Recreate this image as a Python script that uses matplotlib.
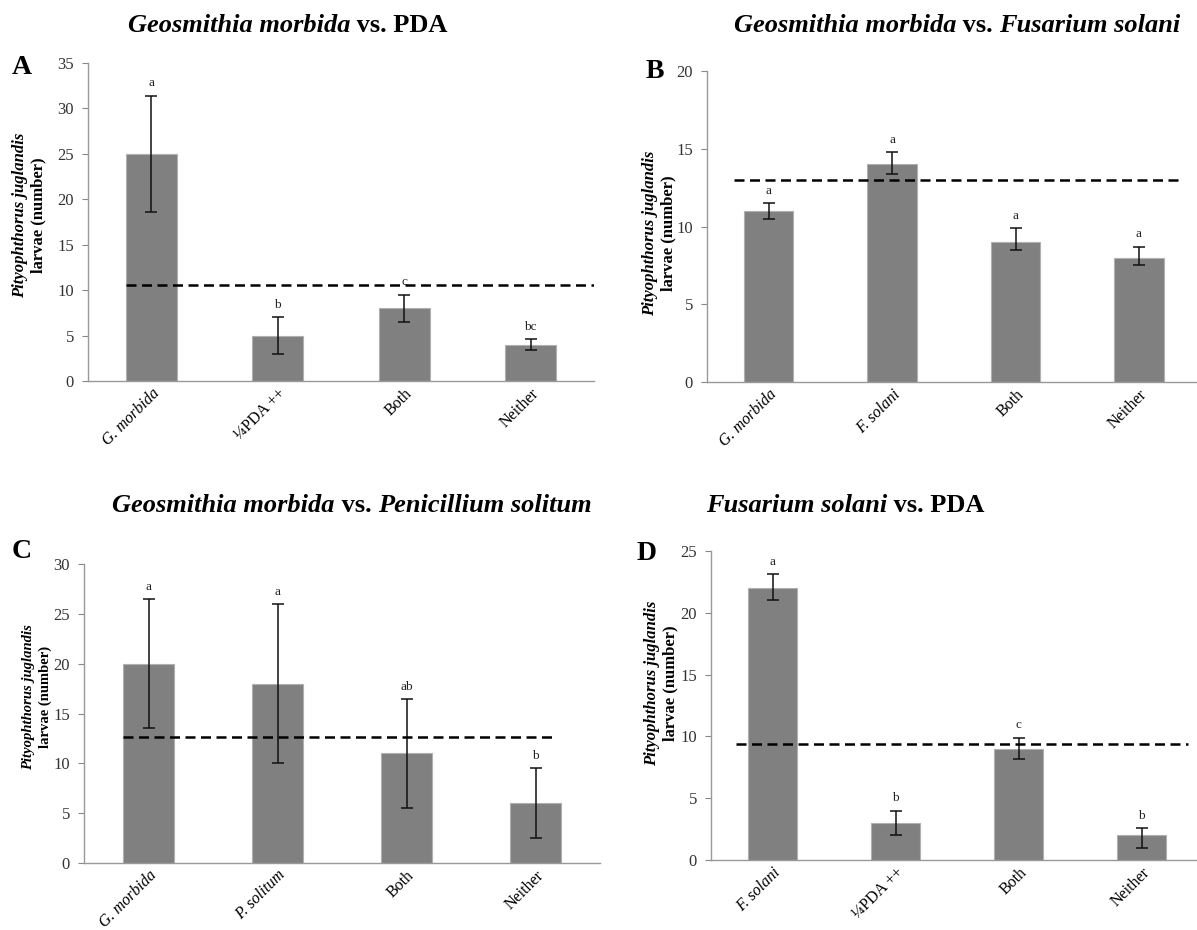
import numpy as np
import matplotlib
matplotlib.use("Agg")
import matplotlib.pyplot as plt

# data
cats_a = ["G. morbida", "\u00bcPDA ++", "Both", "Neither"]
mean_a = [25, 5, 8, 4]
err_a = [6.4, 2.0, 1.5, 0.6]
lets_a = ["a", "b", "c", "bc"]
ref_a = 10.6

cats_b = ["G. morbida", "F. solani", "Both", "Neither"]
mean_b = [11, 14, 9, 8]
err_b = [0.5, 0.8, 0.9, 0.7]
err_b_lo = [0.5, 0.6, 0.5, 0.5]
lets_b = ["a", "a", "a", "a"]
ref_b = 13.0

cats_c = ["G. morbida", "P. solitum", "Both", "Neither"]
mean_c = [20, 18, 11, 6]
err_c = [6.5, 8.0, 5.5, 3.5]
lets_c = ["a", "a", "ab", "b"]
ref_c = 12.6

cats_d = ["F. solani", "\u00bcPDA ++", "Both", "Neither"]
mean_d = [22, 3, 9, 2]
err_d = [1.1, 1.0, 0.9, 0.6]
err_d_lo = [1.0, 1.0, 0.8, 1.0]
lets_d = ["a", "b", "c", "b"]
ref_d = 9.4

italic_cats = {"G. morbida", "F. solani", "P. solitum"}

plt.rcParams["font.family"] = ["Liberation Serif", "DejaVu Serif"]

W, H = 1197, 930
fig = plt.figure(figsize=(W / 100, H / 100), dpi=100)


def px_axes(left, right, top, bottom):
    return fig.add_axes([left / W, 1 - bottom / H, (right - left) / W, (bottom - top) / H])


def panel(ax, cats, means, err_hi, err_lo, lets, ref, ymax, ref_from, ref_to, xmax=3.5):
    x = np.arange(len(cats))
    ax.bar(x, means, width=0.4, color="#808080", edgecolor="#b0b0b0", linewidth=0.8, zorder=2)
    ax.errorbar(x, means, yerr=[err_lo, err_hi], fmt="none", ecolor="#111111",
                elinewidth=1.1, capsize=4, capthick=1.1, zorder=3)
    for xi, m, e, t in zip(x, means, err_hi, lets):
        ax.text(xi, m + e + ymax * 0.02, t, ha="center", va="bottom", fontsize=9.5, color="#222222")
    ax.hlines(ref, ref_from, ref_to, colors="black", linestyles=(0, (4, 2.2)), linewidth=1.8, zorder=4)
    ax.set_xlim(-0.5, xmax)
    ax.set_ylim(0, ymax)
    ax.set_yticks(np.arange(0, ymax + 1, 5))
    ax.set_xticks(x)
    ax.set_xticklabels(cats, rotation=45, ha="right", rotation_mode="anchor", fontsize=11.5)
    for lab in ax.get_xticklabels():
        if lab.get_text() in italic_cats:
            lab.set_style("italic")
    ax.tick_params(axis="x", length=0, pad=3)
    ax.tick_params(axis="y", length=4, color="#888888", labelsize=12, labelcolor="#333333", pad=6)
    for s in ["top", "right"]:
        ax.spines[s].set_visible(False)
    for s in ["left", "bottom"]:
        ax.spines[s].set_color("#999999")
        ax.spines[s].set_linewidth(1.0)


def ylabel(x1, x2, yc, size=12):
    fig.text(x1 / W, 1 - yc / H, "Pityophthorus juglandis", rotation=90, ha="center",
             va="center", fontsize=size, fontweight="bold", style="italic")
    fig.text(x2 / W, 1 - yc / H, "larvae (number)", rotation=90, ha="center",
             va="center", fontsize=size, fontweight="bold")


# A
axA = px_axes(88, 594, 63, 381)
panel(axA, cats_a, mean_a, err_a, err_a, lets_a, ref_a, 35, -0.2, 3.5)
fig.text(12 / W, 1 - 68 / H, "A", fontsize=20, fontweight="bold", va="center")
ylabel(20, 38, 215)

# B
axB = px_axes(707, 1197, 71, 382)
panel(axB, cats_b, mean_b, err_b, err_b_lo, lets_b, ref_b, 20, -0.28, 3.35, xmax=3.47)
fig.text(646 / W, 1 - 72 / H, "B", fontsize=20, fontweight="bold", va="center")
ylabel(650, 668, 233)

# C
axC = px_axes(84, 600, 564, 863)
panel(axC, cats_c, mean_c, err_c, err_c, lets_c, ref_c, 30, -0.2, 3.15)
fig.text(12 / W, 1 - 551 / H, "C", fontsize=20, fontweight="bold", va="center")
ylabel(29, 45, 697, size=10.5)

# D
axD = px_axes(711, 1197, 551, 860)
panel(axD, cats_d, mean_d, err_d, err_d_lo, lets_d, ref_d, 25, -0.3, 3.38, xmax=3.45)
fig.text(637 / W, 1 - 553 / H, "D", fontsize=20, fontweight="bold", va="center")
ylabel(652, 670, 683)


# titles: italic species part, bold throughout
def title(xc, yc, parts):
    renderer = fig.canvas.get_renderer()
    texts = []
    for t, it in parts:
        tx = fig.text(0, 1 - yc / H, t, fontsize=19, fontweight="bold",
                      style="italic" if it else "normal", va="center")
        texts.append(tx)
    widths = [tx.get_window_extent(renderer).width for tx in texts]
    x0 = xc - sum(widths) / 2
    for tx, w in zip(texts, widths):
        tx.set_x(x0 / W)
        x0 += w


title(288, 26, [("Geosmithia morbida", True), (" vs. PDA", False)])
title(957, 26, [("Geosmithia morbida", True), (" vs. ", False), ("Fusarium solani", True)])
title(352, 506, [("Geosmithia morbida", True), (" vs. ", False), ("Penicillium solitum", True)])
title(845, 506, [("Fusarium solani", True), (" vs. PDA", False)])

fig.savefig("out.png", dpi=100)
